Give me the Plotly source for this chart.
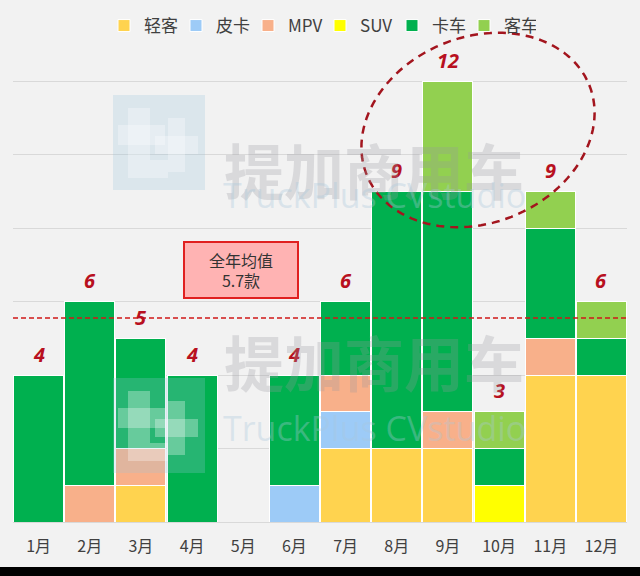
import numpy as np
import plotly.graph_objects as go

months = ["1月", "2月", "3月", "4月", "5月", "6月", "7月", "8月", "9月", "10月", "11月", "12月"]
qingke = [0, 0, 1, 0, 0, 0, 2, 2, 2, 0, 4, 4]   # 轻客
pika   = [0, 0, 0, 0, 0, 1, 1, 0, 0, 0, 0, 0]   # 皮卡
mpv    = [0, 1, 1, 0, 0, 0, 1, 0, 1, 0, 1, 0]   # MPV
suv    = [0, 0, 0, 0, 0, 0, 0, 0, 0, 1, 0, 0]   # SUV
kache  = [4, 5, 3, 4, 0, 3, 2, 7, 6, 1, 3, 1]   # 卡车
keche  = [0, 0, 0, 0, 0, 0, 0, 0, 3, 1, 1, 1]   # 客车
avg_line_value = 5.55
avg_text = "全年均值<br>5.7款"

series = [
    ("轻客", qingke, "#FFD34F"),
    ("皮卡", pika, "#9DCBF7"),
    ("MPV", mpv, "#F8B08A"),
    ("SUV", suv, "#FFFF00"),
    ("卡车", kache, "#00B04F"),
    ("客车", keche, "#92D050"),
]
totals = [sum(v) for v in zip(qingke, pika, mpv, suv, kache, keche)]

# pixel geometry helpers (plot area 13..627 x, 30..522 y)
L, R, T, B = 13, 627, 30, 522
W, H = 640, 576
unit = 36.75
ymax = (B - T) / unit

def px(x):
    return (x - L) / (R - L)

def py(y):
    return (B - y) / (B - T)

fig = go.Figure()
for name, vals, col in series:
    fig.add_trace(go.Bar(
        x=months, y=vals, name=name,
        marker=dict(color=col, line=dict(color="white", width=1)),
    ))

annotations = []
for m, t in zip(months, totals):
    if t > 0:
        annotations.append(dict(
            x=m, y=t, xref="x", yref="y", text=str(t), showarrow=False,
            yshift=21, font=dict(size=20, color="#B81020", family="Noto Sans", weight="bold", style="italic"),
        ))

# average box
annotations.append(dict(
    x=px(241), y=py(270), xref="paper", yref="paper", text=avg_text, showarrow=False,
    font=dict(size=16, color="#333333", family="Noto Sans CJK SC"),
    bgcolor="#FFB3B3", bordercolor="#E02020", borderwidth=2, borderpad=2,
    width=108, height=50, align="center",
))

# watermarks
for dy in (0, 283):
    annotations.append(dict(
        x=px(374), y=py(123 + dy), xref="paper", yref="paper", text="<b>提加商用车</b>",
        showarrow=False, font=dict(size=60, color="rgba(150,150,160,0.27)", family="Noto Sans CJK SC"),
    ))
    annotations.append(dict(
        x=px(374), y=py(170 + dy), xref="paper", yref="paper", text="TruckPlus CVstudio",
        showarrow=False, font=dict(size=34, color="rgba(170,200,220,0.35)", family="Open Sans"),
    ))

shapes = []
# logo tiles
for dy in (0, 283):
    shapes.append(dict(
        type="rect", xref="paper", yref="paper",
        x0=px(113), x1=px(205), y0=py(190 + dy), y1=py(95 + dy),
        fillcolor="rgba(150,195,220,0.25)", line=dict(width=0), layer="above",
    ))
    for (a, b, c, d) in [(128, 150, 108, 178), (150, 168, 160, 178), (118, 165, 125, 145),
                         (168, 185, 118, 172), (155, 198, 136, 154)]:
        shapes.append(dict(
            type="rect", xref="paper", yref="paper",
            x0=px(a), x1=px(b), y0=py(d + dy), y1=py(c + dy),
            fillcolor="rgba(255,255,255,0.30)", line=dict(width=0), layer="above",
        ))

# average dashed line
shapes.append(dict(
    type="line", xref="paper", yref="y", x0=0, x1=1, y0=avg_line_value, y1=avg_line_value,
    line=dict(color="#D01818", width=1.5, dash="5px,3px"), layer="above",
))

# dashed ellipse (rotated)
cx, cy, a, b, th = 478, 130, 120, 93, np.radians(22)
phi = np.linspace(0, 2 * np.pi, 120)
ex = cx + a * np.cos(phi) * np.cos(th) + b * np.sin(phi) * np.sin(th)
ey = cy - a * np.cos(phi) * np.sin(th) + b * np.sin(phi) * np.cos(th)
path = "M" + " L".join(f"{px(xx):.5f},{py(yy):.5f}" for xx, yy in zip(ex, ey)) + " Z"
shapes.append(dict(
    type="path", xref="paper", yref="paper", path=path,
    line=dict(color="#A3151E", width=2.5, dash="8px,6px"), layer="above",
))

# bottom black strip
shapes.append(dict(
    type="rect", xref="paper", yref="paper", x0=-0.05, x1=1.05, y0=py(577), y1=py(567),
    fillcolor="#000000", line=dict(width=0), layer="above",
))

fig.update_layout(
    width=W, height=H, barmode="stack", bargap=0.02,
    margin=dict(l=L, r=W - R, t=T, b=H - B, pad=0, autoexpand=False),
    paper_bgcolor="#F2F2F2", plot_bgcolor="#F2F2F2",
    font=dict(family="Noto Sans CJK SC", color="#404040"),
    legend=dict(
        orientation="h", x=0.5, xanchor="center", y=py(26), yanchor="middle",
        font=dict(size=17, color="#404040"), entrywidth=27, itemwidth=30,
        bgcolor="rgba(0,0,0,0)", traceorder="normal",
    ),
    xaxis=dict(
        showgrid=False, showline=True, linecolor="#D9D9D9", linewidth=1,
        tickfont=dict(size=16, color="#404040"), ticks="", ticklabelstandoff=10,
    ),
    yaxis=dict(
        range=[0, ymax], dtick=2, showticklabels=False, gridcolor="#D9D9D9",
        gridwidth=1, zeroline=False,
    ),
    annotations=annotations, shapes=shapes,
)

fig.write_html("out.html")
